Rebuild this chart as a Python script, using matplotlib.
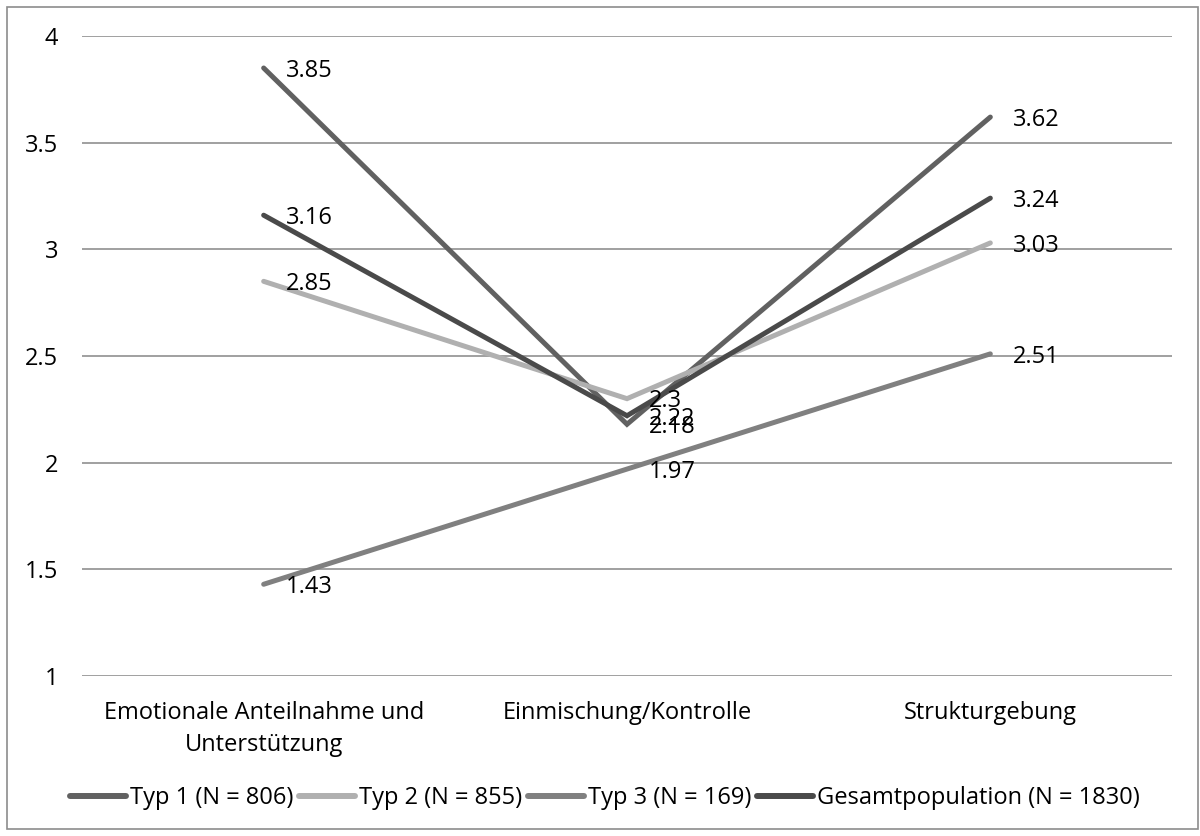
import matplotlib
matplotlib.use("Agg")
import matplotlib.pyplot as plt
from matplotlib.patches import Rectangle

categories = ["Emotionale Anteilnahme und\nUnterstützung", "Einmischung/Kontrolle", "Strukturgebung"]
series_names = ["Typ 1 (N = 806)", "Typ 2 (N = 855)", "Typ 3 (N = 169)", "Gesamtpopulation (N = 1830)"]
typ1 = [3.85, 2.18, 3.62]
typ2 = [2.85, 2.30, 3.03]
typ3 = [1.43, 1.97, 2.51]
gesamt = [3.16, 2.22, 3.24]
y_ticks = [1, 1.5, 2, 2.5, 3, 3.5, 4]
y_tick_labels = ["1", "1.5", "2", "2.5", "3", "3.5", "4"]

colors = ["#616161", "#b0b0b0", "#808080", "#4a4a4a"]
series = [typ1, typ2, typ3, gesamt]

plt.rcParams['font.family'] = ['Open Sans', 'DejaVu Sans']
FS = 17

fig = plt.figure(figsize=(12, 8.36), dpi=100)
ax = fig.add_axes([82/1200, 160/836, 1090/1200, 640/836])

x = list(range(len(categories)))
for vals, name, c in zip(series, series_names, colors):
    ax.plot(x, vals, color=c, lw=3.6, solid_capstyle='round', solid_joinstyle='miter', label=name, zorder=3)
for vals, c in zip(series, colors):
    for xi, v in zip(x, vals):
        ax.annotate(f"{v:g}", (xi, v), xytext=(16, -2), textcoords='offset points',
                    va='center', ha='left', fontsize=FS, color='black', zorder=4)

ax.set_xlim(-0.5, 2.5)
ax.set_ylim(1, 4)
ax.set_yticks(y_ticks)
ax.set_yticklabels(y_tick_labels)
ax.set_xticks(x)
ax.set_xticklabels(categories, linespacing=1.45)
ax.tick_params(axis='y', length=0, pad=17, labelsize=FS)
ax.tick_params(axis='x', length=0, pad=18, labelsize=FS)
for s in ax.spines.values():
    s.set_visible(False)
ax.grid(axis='y', color='#868686', lw=1.1, zorder=1)
ax.set_axisbelow(True)

leg = fig.legend(loc='center', bbox_to_anchor=(605/1200, 38/836), ncol=4, frameon=False,
                 fontsize=FS, handlelength=2.37, handletextpad=0.17, columnspacing=0.25,
                 borderaxespad=0)
for h in leg.get_lines():
    h.set_linewidth(4.3)
    h.set_solid_capstyle('round')

fig.patches.append(Rectangle((7/1200, 7/836), 1191/1200, 822/836, transform=fig.transFigure,
                             fill=False, edgecolor='#8c8c8c', lw=1.2))

fig.savefig("out.png", dpi=100)
